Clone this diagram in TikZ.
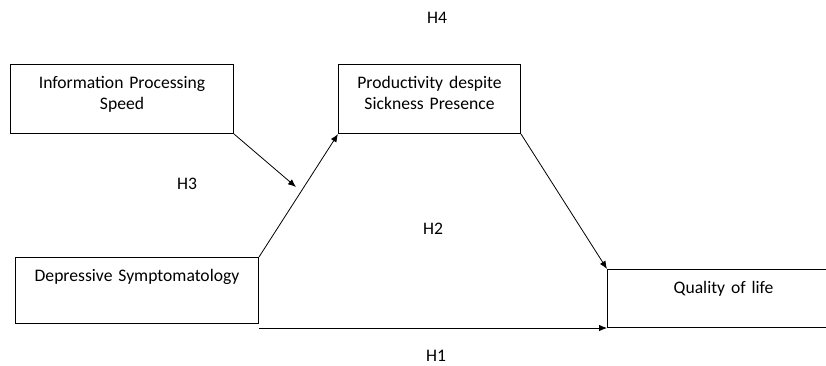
\documentclass[tikz,border=0pt]{standalone}
\usepackage{fontspec}
\setmainfont{Carlito}
\usetikzlibrary{positioning,arrows.meta}

\begin{document}
\begin{tikzpicture}[x=1pt,y=-1pt,>={Latex[length=8pt,width=6.5pt]},
var/.style={draw=black, line width=1pt, rectangle, anchor=north west, align=center,
  inner xsep=0pt, inner ysep=11.5pt, text height=12pt, font=\fontsize{17.6}{21}\selectfont},
hyp/.style={font=\fontsize{17.6}{21}\selectfont, inner sep=0pt}
]
\useasboundingbox (0,0) rectangle (826,365);

\node[var, text width=223pt, text depth=34pt](ips) at (10,64){Information Processing\\Speed};
\node[var, text width=182pt, text depth=34pt](psp) at (338,64){Productivity despite\\Sickness Presence};
\node[var, text width=243pt, text depth=31pt](ds) at (15,257){Depressive Symptomatology};
\node[var, text width=232pt, text depth=23pt](qol) at (607,269){Quality of life};

\node[hyp](h4) at (437,18){H4};
\node[hyp](h3) at (187,184){H3};
\node[hyp](h2) at (433,229){H2};
\node[hyp](h1) at (436,356){H1};

\coordinate (mod) at (296,187);

\draw[->, line width=0.8pt] (ips.south east) -- (mod);
\draw[->, line width=0.8pt] (ds.north east) -- (psp.south west);
\draw[->, line width=0.8pt] (psp.south east) -- (qol.north west);
\draw[->, line width=0.8pt] (ds.south east |- qol.south west) -- (qol.south west);
\end{tikzpicture}
\end{document}
